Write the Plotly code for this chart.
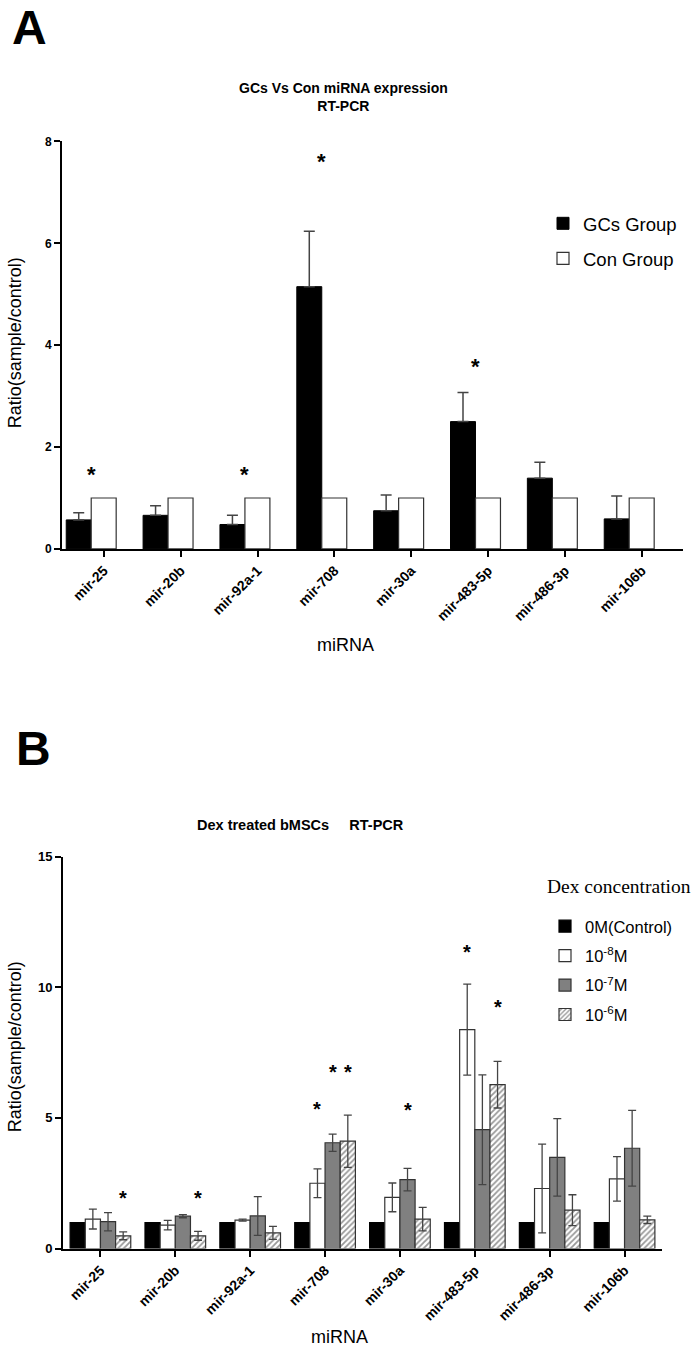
import plotly.graph_objects as go
import numpy as np

# ---------------- data ----------------
categories = ["mir-25", "mir-20b", "mir-92a-1", "mir-708", "mir-30a",
              "mir-483-5p", "mir-486-3p", "mir-106b"]

# Panel A : GCs vs Con
gcs_vals = [0.57, 0.66, 0.48, 5.15, 0.75, 2.50, 1.39, 0.59]
gcs_err = [0.14, 0.19, 0.18, 1.09, 0.31, 0.57, 0.31, 0.45]
con_vals = [1, 1, 1, 1, 1, 1, 1, 1]
sig_a_y = [1.46, None, 1.46, 7.6, None, 3.58, None, None]

# Panel B : Dex treated bMSCs
b_names = ["0M(Control)", "10<sup>-8</sup>M", "10<sup>-7</sup>M", "10<sup>-6</sup>M"]
b_ctrl = [1, 1, 1, 1, 1, 1, 1, 1]
b_e8 = [1.13, 0.90, 1.09, 2.50, 1.96, 8.38, 2.30, 2.67]
b_e8_err = [0.38, 0.18, 0.04, 0.55, 0.55, 1.74, 1.70, 0.85]
b_e7 = [1.03, 1.24, 1.25, 4.05, 2.64, 4.55, 3.49, 3.84]
b_e7_err = [0.35, 0.06, 0.74, 0.33, 0.43, 2.10, 1.48, 1.45]
b_e6 = [0.49, 0.49, 0.60, 4.11, 1.13, 6.27, 1.47, 1.10]
b_e6_err = [0.15, 0.17, 0.25, 1.00, 0.45, 0.89, 0.59, 0.14]
# significance stars: (category index, series index, y)
sig_b = [(0, 3, 2.1), (1, 3, 2.1), (3, 1, 5.5), (3, 2, 6.9), (3, 3, 6.9),
         (4, 2, 5.45), (5, 1, 11.5), (5, 3, 9.4)]

# ---------------- figure ----------------
W, H = 700, 1357
SANS = "Liberation Sans"
SERIF = "Liberation Serif"
pos = np.arange(len(categories))


def px_x(p):
    return p / W


def px_y(p):
    return 1 - p / H


fig = go.Figure()

OUT = "#333333"
ERRC = "#444444"

# Panel A bars
fig.add_trace(go.Bar(
    x=pos, y=gcs_vals, name="GCs Group", xaxis="x", yaxis="y",
    marker=dict(color="black", line=dict(color="black", width=1)),
    error_y=dict(type="data", array=gcs_err, arrayminus=[0] * len(gcs_err),
                 symmetric=False, color=ERRC, thickness=1.5, width=5.5),
    legend="legend", legendgroup="a1"))
fig.add_trace(go.Bar(
    x=pos, y=con_vals, name="Con Group", xaxis="x", yaxis="y",
    marker=dict(color="white", line=dict(color=OUT, width=1.2)),
    legend="legend", legendgroup="a2"))

# Panel B bars (four bars per group, groups fill 81% of each slot)
bgap_b = 0.19
bw = (1 - bgap_b) / 4
b_vals = [b_ctrl, b_e8, b_e7, b_e6]
b_errs = [None, b_e8_err, b_e7_err, b_e6_err]
b_fill = ["black", "white", "#808080", "white"]
for k in range(4):
    marker = dict(color=b_fill[k], line=dict(color=OUT if k else "black", width=1.2))
    if k == 3:
        marker["pattern"] = dict(shape="/", fgcolor="#333333", bgcolor="white",
                                 size=4, solidity=0.45)
    tr = go.Bar(x=pos, y=b_vals[k], name=b_names[k], xaxis="x2", yaxis="y2",
                width=bw, offset=-(1 - bgap_b) / 2 + bw * k,
                marker=marker, legend="legend2", legendgroup="b%d" % k)
    if b_errs[k] is not None:
        tr.error_y = dict(type="data", array=b_errs[k], color=ERRC,
                          thickness=1.3, width=4)
    fig.add_trace(tr)

annotations = []
# stars panel A (over group centre)
for i, yv in enumerate(sig_a_y):
    if yv is not None:
        annotations.append(dict(x=pos[i], y=yv, xref="x", yref="y", text="<b>*</b>",
                                showarrow=False, font=dict(family=SANS, size=22, color="black")))
# stars panel B (over individual bars)
for (ci, si, yv) in sig_b:
    xx = pos[ci] - (1 - bgap_b) / 2 + bw * (si + 0.5)
    annotations.append(dict(x=xx, y=yv, xref="x2", yref="y2", text="<b>*</b>",
                            showarrow=False, font=dict(family=SANS, size=20, color="black"),
                            yshift=-4))

# Panel letters
annotations.append(dict(x=px_x(10), y=px_y(-8), xref="paper", yref="paper", text="<b>A</b>",
                        showarrow=False, xanchor="left", yanchor="top",
                        font=dict(family=SANS, size=48, color="black")))
annotations.append(dict(x=px_x(14), y=px_y(721), xref="paper", yref="paper", text="<b>B</b>",
                        showarrow=False, xanchor="left", yanchor="top",
                        font=dict(family=SANS, size=48, color="black")))
# Titles
annotations.append(dict(x=px_x(343), y=px_y(91), xref="paper", yref="paper",
                        text="<b>GCs Vs Con miRNA expression<br>RT-PCR</b>",
                        showarrow=False, xanchor="center", yanchor="middle",
                        font=dict(family=SANS, size=14, color="black")))
annotations.append(dict(x=px_x(300), y=px_y(827), xref="paper", yref="paper",
                        text="<b>Dex treated bMSCs&nbsp;&nbsp;&nbsp;&nbsp;&nbsp;RT-PCR</b>",
                        showarrow=False, xanchor="center", yanchor="middle",
                        font=dict(family=SANS, size=14.5, color="black")))
# legend title of panel B
annotations.append(dict(x=px_x(545), y=px_y(889), xref="paper", yref="paper",
                        text="Dex concentration", showarrow=False,
                        xanchor="left", yanchor="middle",
                        font=dict(family=SERIF, size=19.5, color="black")))
# axis titles
for yc in [340, 1052]:
    annotations.append(dict(x=px_x(15), y=px_y(yc), xref="paper", yref="paper",
                            text="Ratio(sample/control)", textangle=-90,
                            showarrow=False, xanchor="center", yanchor="middle",
                            font=dict(family=SANS, size=18, color="black")))
annotations.append(dict(x=px_x(345), y=px_y(645), xref="paper", yref="paper", text="miRNA",
                        showarrow=False, xanchor="center", yanchor="middle",
                        font=dict(family=SANS, size=18, color="black")))
annotations.append(dict(x=px_x(339), y=px_y(1345), xref="paper", yref="paper", text="miRNA",
                        showarrow=False, xanchor="center", yanchor="middle",
                        font=dict(family=SANS, size=18, color="black")))

axis_common = dict(showgrid=False, zeroline=False, showline=True, linecolor="black",
                   linewidth=2, ticks="outside", ticklen=6, tickwidth=2, tickcolor="black")

fig.update_layout(
    width=W, height=H, margin=dict(l=0, r=0, t=0, b=0),
    paper_bgcolor="white", plot_bgcolor="white",
    barmode="group", showlegend=True,
    xaxis=dict(domain=[px_x(62), px_x(683)], range=[-0.38, 7.7], anchor="y",
               tickmode="array", tickvals=pos + 0.165, ticktext=categories, tickangle=-45,
               tickfont=dict(family=SANS, size=14, color="black", weight="bold"), **axis_common),
    yaxis=dict(domain=[px_y(548), px_y(136)], range=[0, 8], dtick=2, anchor="x",
               tickfont=dict(family=SANS, size=12, color="black", weight="bold"), **axis_common),
    xaxis2=dict(domain=[px_x(63), px_x(662)], range=[-0.5, 7.5], anchor="y2",
                tickmode="array", tickvals=pos, ticktext=categories, tickangle=-45,
                tickfont=dict(family=SANS, size=14, color="black", weight="bold"), **axis_common),
    yaxis2=dict(domain=[px_y(1255.5), px_y(859)], range=[0, 15], dtick=5, anchor="x2",
                tickfont=dict(family=SANS, size=13, color="black", weight="bold"), **axis_common),
    bargap=0.35,
    legend=dict(x=px_x(543), y=px_y(200), xanchor="left", yanchor="top",
                font=dict(family=SANS, size=18.5, color="black"), tracegroupgap=8,
                bgcolor="rgba(0,0,0,0)"),
    legend2=dict(x=px_x(545), y=px_y(912), xanchor="left", yanchor="top",
                 font=dict(family=SANS, size=16.5, color="black"), tracegroupgap=5,
                 bgcolor="rgba(0,0,0,0)"),
    annotations=annotations,
)

fig.write_html("out.html", config={"displayModeBar": False},
               post_script="document.body.style.margin='0px';")
